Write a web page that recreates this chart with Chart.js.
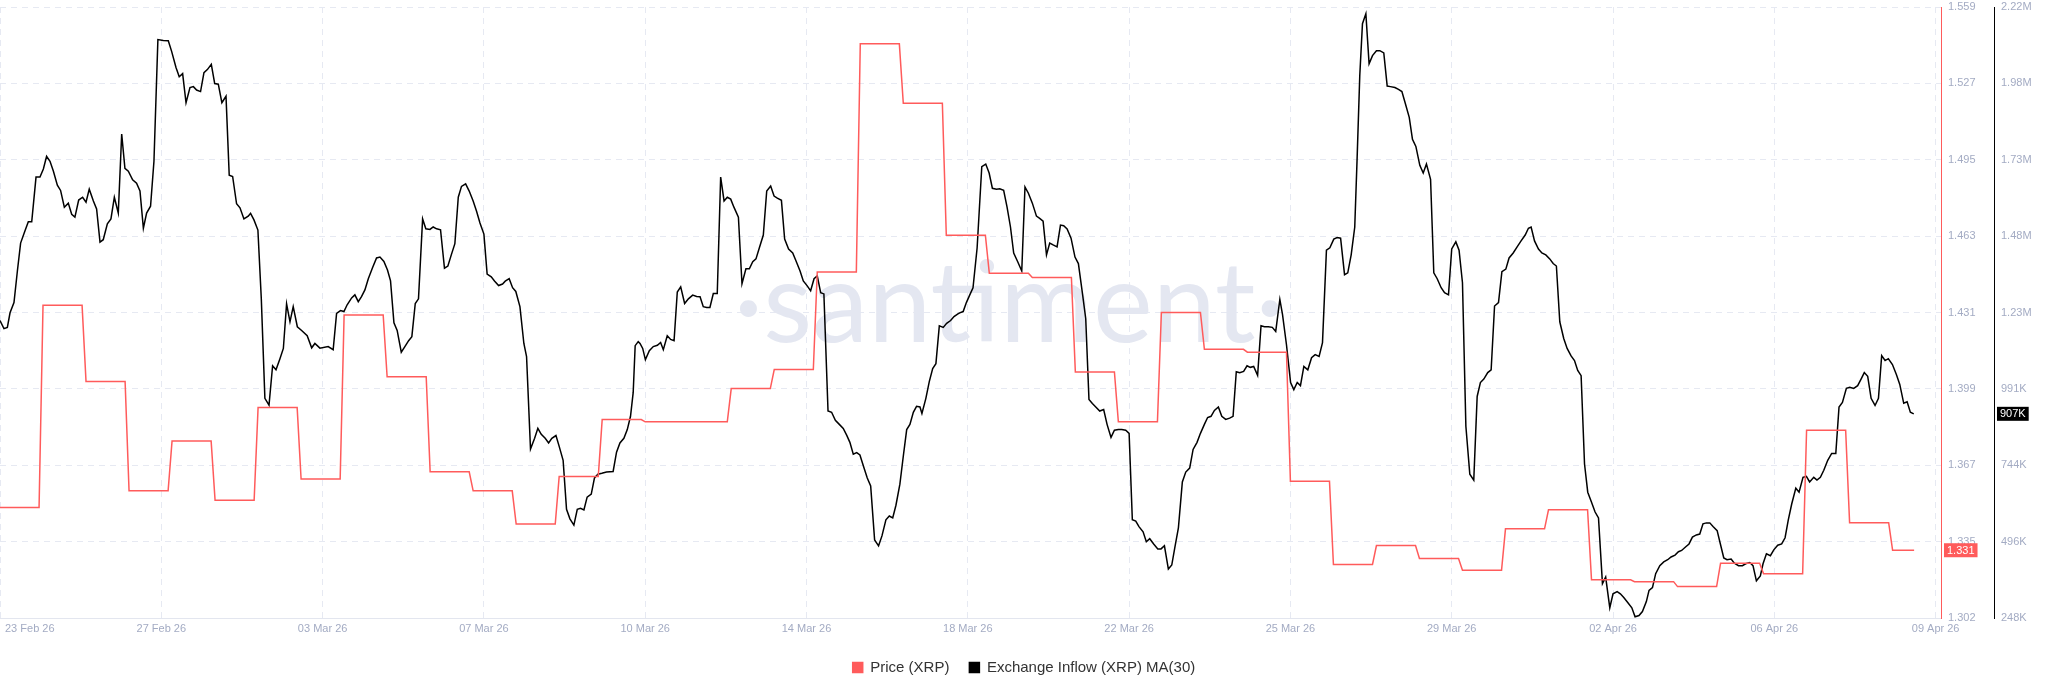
<!DOCTYPE html>
<html lang="en">
<head>
    <meta charset="UTF-8">
    <title>XRP Price vs Exchange Inflow MA(30)</title>
    <script src="https://cdn.jsdelivr.net/npm/chart.js"></script>
    <style>
        html, body { margin: 0; padding: 0; background: #fff; }
        #wrap { width: 2048px; height: 693px; position: relative; }
    </style>
</head>
<body>
<div id="wrap"><canvas id="chart"></canvas></div>
<script>
// x axis is hours since 23 Feb 26 00:00
const dateLabels = ['23 Feb 26', '27 Feb 26', '03 Mar 26', '07 Mar 26', '10 Mar 26', '14 Mar 26', '18 Mar 26',
    '22 Mar 26', '25 Mar 26', '29 Mar 26', '02 Apr 26', '06 Apr 26', '09 Apr 26'];
const dateTickHours = [0, 90, 180, 270, 360, 450, 540, 630, 720, 810, 900, 990, 1080];

const priceTickLabels = ['1.302', '1.335', '1.367', '1.399', '1.431', '1.463', '1.495', '1.527', '1.559'];
const inflowTickLabels = ['248K', '496K', '744K', '991K', '1.23M', '1.48M', '1.73M', '1.98M', '2.22M'];
const priceRange = [1.3025, 1.5595];
const inflowRange = [248, 2220]; // thousands of XRP

// daily XRP price (one value per day, starting 23 Feb)
const priceDaily = [1.349, 1.434, 1.402, 1.356, 1.377, 1.352, 1.391, 1.361, 1.430, 1.404,
    1.364, 1.356, 1.342, 1.362, 1.386, 1.385, 1.385, 1.399, 1.407, 1.448,
    1.544, 1.519, 1.4635, 1.4475, 1.4457, 1.406, 1.385, 1.431, 1.4155, 1.4143,
    1.360, 1.325, 1.333, 1.3275, 1.3226, 1.340, 1.348, 1.3186, 1.3178, 1.3157,
    1.3255, 1.3211, 1.3815, 1.3426, 1.331];
const priceLastHour = 1068;

// exchange inflow MA(30): [hour, thousands]
const inflowMA30 = [
    [0,1208],[2.2,1182],[4.1,1186],[5.6,1233],[7.8,1266],[9.7,1368],[11.5,1458],[13.9,1497],[15.8,1527],[17.7,1527],
    [20.1,1671],[22.3,1671],[24.2,1697],[26,1738],[27.9,1722],[29.8,1690],[32,1645],[33.8,1628],[35.9,1574],[38.1,1587],
    [40,1551],[41.8,1542],[43.9,1597],[46.1,1606],[48,1590],[49.8,1632],[52.1,1594],[53.9,1568],[55.8,1461],[57.6,1469],
    [59.9,1520],[61.9,1536],[63.8,1606],[66,1555],[67.9,1810],[69.7,1699],[71.6,1690],[74,1662],[76.2,1651],[78.1,1626],
    [80,1506],[81.8,1555],[84,1577],[85.9,1722],[88.1,2115],[91.1,2112],[93.9,2111],[95.8,2076],[98.2,2025],[100,1995],
    [101.9,2005],[103.8,1911],[106,1960],[107.9,1963],[109.7,1952],[111.9,1947],[113.8,2008],[115.7,2018],[117.9,2035],[119.8,1973],
    [121.8,1971],[123.8,1911],[126.1,1932],[127.9,1677],[129.8,1673],[132,1585],[133.9,1572],[136.1,1536],[138.5,1545],[139.8,1554],
    [141.7,1533],[143.9,1500],[145.8,1278],[147.8,957],[150.1,935],[152.1,1062],[154,1049],[156.2,1085],[158.1,1118],[159.9,1262],
    [161.8,1204],[163.6,1253],[165.9,1188],[168.3,1176],[171.4,1159],[173.9,1120],[175.7,1134],
    [178.5,1119],[183.1,1124],[185.9,1114],[187.8,1231],[190,1240],[191.9,1237],[193.7,1259],[196.2,1281],[198,1291],[199.9,1269],
    [201.7,1285],[203.6,1307],[205.5,1343],[207.9,1379],[210.1,1410],[212,1413],[214.2,1399],[216.2,1371],[217.9,1336],[219.8,1201],
    [221.6,1176],[223.9,1106],[225.9,1124],[228,1143],[229.8,1156],[231.7,1263],[233.5,1278],[235.8,1536],[237.6,1504],[239.9,1502],
    [241.7,1510],[243.6,1504],[245.8,1501],[248,1377],[249.9,1384],[251.8,1420],[253.8,1456],[255.7,1606],[257.5,1641],[259.8,1649],
    [261.8,1626],[264,1594],[265.9,1561],[267.8,1523],[270,1487],[271.8,1358],[274.1,1349],[275.9,1336],[278.2,1321],[280.4,1326],
    [281.9,1335],[284.1,1343],[286,1314],[287.8,1302],[290.1,1253],[292.3,1134],[293.8,1092],[296,793],[298.3,828],[300.1,860],
    [302,841],[304.2,828],[306.1,813],[307.9,828],[310.2,837],[312,802],[314.2,757],[316.1,599],[318,568],[320.2,548],
    [322.1,599],[323.9,602],[325.8,597],[327.6,638],[329.9,648],[331.7,700],[333.6,712],[335.8,715],[338.4,719],[342.1,721],
    [344,783],[345.9,813],[348.1,828],[350,856],[351.8,899],[353.3,976],[354.4,1127],[356.1,1140],
    [357.1,1134],[358.6,1118],[360.1,1082],[362.3,1111],[364.5,1124],[366.8,1128],[368.6,1137],[370.1,1114],[372.3,1159],[374.2,1147],
    [376.1,1143],[377.9,1300],[379.8,1317],[382,1263],[384.1,1278],[386.5,1290],[388.7,1286],[390.6,1285],[392.4,1253],[394.3,1250],
    [396.1,1250],[398,1295],[400.2,1295],[402.1,1671],[404,1594],[405.8,1606],[407.7,1600],[409.5,1574],[412,1542],[414,1327],
    [416.2,1375],[418.1,1375],[420,1398],[421.8,1407],[423.7,1443],[425.9,1484],[427.8,1626],[430,1642],[431.9,1610],[433.7,1603],
    [436,1596],[437.8,1471],[440,1439],[442.3,1426],[444.1,1401],[446.4,1368],[448.2,1336],[450.4,1320],[452.3,1304],[454.2,1343],
    [456,1352],[457.9,1298],[459.7,1294],[462,916],[464,912],[466.1,886],[468.3,873],[470.5,860],[472.4,838],[474.2,815],
    [476.1,777],[478,782],[479.8,774],[482.1,732],[483.9,700],[485.8,674],[488,500],[490.2,481],[492.1,513],[494.3,565],
    [496.2,577],[498.1,571],[499.9,612],[502.1,680],[504,770],[505.9,856],[507.7,873],[509.6,912],[511.4,931],[513.3,929],
    [514.4,908],[516.6,957],[518.5,1011],[520.4,1053],[522.2,1069],[524.1,1191],[526.3,1186],[528.2,1199],[530.4,1208],[532.3,1221],
    [534.7,1230],[535.5,1233],[537.4,1237],[539.2,1266],[541.1,1291],[542.9,1314],[545.2,1443],[547.8,1705],[550,1713],[551.9,1684],
    [553.7,1635],[556,1632],[557.8,1633],[560,1628],[561.9,1574],[563.8,1510],[565.6,1426],[567.9,1397],[570.1,1368],[571.9,1639],
    [573.8,1619],[576,1587],[578.3,1545],[580.1,1538],[582,1529],[583.9,1420],[585.7,1458],[587.6,1452],[589.8,1446],[591.7,1516],
    [593.5,1514],[595.4,1504],[597.6,1474],[599.8,1413],[601.7,1392],[603.9,1298],[605.8,1214],[607.6,953],[609.5,940],[611.4,929],
    [613.6,916],[615.8,921],[617.7,873],[619.9,831],[621.8,854],[624,856],[625.9,856],[628.1,854],[630,844],[631.8,565],
    [633.7,561],[635.5,543],[637.8,526],[639.6,494],[641.5,504],[643.7,487],[646,471],[647.8,471],[649.7,481],[651.9,406],
    [653.8,419],[655.6,478],[657.5,539],[659.7,687],[661.6,719],[663.8,732],[665.7,792],[667.9,815],[669.8,844],[672,873],
    [673.8,895],[675.7,899],[677.6,918],[679.8,929],[681.7,899],[683.9,889],[686.1,893],[688,899],[689.8,1043],[691.7,1040],
    [693.9,1044],[695.8,1062],[697.6,1057],[699.5,1060],[701.7,1031],[703.6,1191],[705.5,1188],[707.7,1188],[709.9,1186],[711.8,1173],
    [714.1,1276],[715.6,1227],[717.8,1130],[720.1,1008],[721.9,985],[723.8,1008],[725.6,998],[727.5,1060],[729.7,1049],[731.8,1088],
    [733.8,1098],[736,1092],[737.9,1137],[740.1,1435],[742,1443],[744.2,1471],[746.1,1476],[748,1474],[750.2,1356],[752,1362],
    [753.9,1420],[755.9,1510],[757.2,1729],[758.7,1999],[760.2,2166],[762.1,2198],[763.9,2037],[765.8,2063],[768,2079],[769.9,2079],
    [772.1,2072],[774,1965],[775.8,1963],[778.3,1960],[780.3,1954],[782.2,1947],[784,1911],[786.3,1864],[788.1,1793],[790,1770],
    [792.2,1709],[794.1,1684],[795.9,1713],[798.2,1664],[800,1362],[801.9,1343],[804.1,1314],[806,1298],[808.2,1291],[810,1439],
    [812.3,1462],[814.1,1435],[816,1330],[817.9,867],[820.1,712],[822.3,693],[824.2,963],[826,1008],[827.9,1019],[830.1,1040],
    [832,1049],[833.9,1255],[836.1,1266],[838,1366],[840.2,1374],[842,1410],[844.3,1426],[846.5,1446],[848.7,1465],[851,1484],
    [852.8,1506],[854.3,1510],[856.2,1465],[858.4,1439],[860.3,1426],[862.5,1420],[864.7,1407],[866.6,1392],[868.4,1384],[870.3,1204],
    [872.5,1150],[874.4,1118],[876.6,1094],[878.5,1079],[880.3,1047],[882.2,1030],[884.1,745],[885.9,654],[887.8,625],[890,590],
    [891.9,571],[894.1,359],[895.9,380],[898.2,281],[900,326],[902.3,333],[904.1,326],[906,314],[908.2,298],[910.5,281],
    [912.3,252],[914.5,256],[916.4,269],[918.6,301],[920.1,337],[922,346],[923.8,391],[926.1,417],[928.3,429],[930.5,436],
    [932.4,445],[934.6,451],[936.5,462],[938.3,466],[940.6,478],[942.4,487],[944.3,509],[946.5,516],[948.4,519],[950.2,552],
    [952.1,555],[954,555],[955.8,543],[958.1,530],[959.9,487],[961.8,442],[963.6,436],[965.9,438],[967.7,425],[970,417],
    [972.2,417],[974,423],[976.3,427],[978.1,417],[980,368],[982.2,384],[983.7,423],[985.6,455],[987.8,449],[989.7,468],
    [991.9,483],[994.1,487],[996,507],[997.8,565],[999.7,616],[1002,667],[1003.8,654],[1006,702],[1007.9,705],[1009.7,687],
    [1012,702],[1013.8,693],[1015.7,702],[1017.6,725],[1019.8,757],[1022,779],[1024.3,779],[1026.1,929],[1028,944],[1030.2,989],
    [1032.1,993],[1034.3,989],[1036.5,998],[1038.4,1019],[1040.2,1040],[1042.1,1028],[1044,957],[1046.2,934],[1048.1,957],[1049.9,1095],
    [1051.8,1079],[1053.6,1085],[1055.9,1066],[1058.1,1034],[1060,1002],[1062.2,941],[1064.1,946],[1065.9,912],[1067.8,907]
];

const FONT = '"Liberation Sans", Arial, sans-serif';
const TICK_COLOR = '#a3abc3';
const GRID_COLOR = '#e6e9f2';
const RED = '#ff5b5b';

Chart.defaults.font.family = FONT;

// price is daily: flat for the day, short ramp into the next one
const pricePoints = [];
priceDaily.forEach((p, d) => {
    pricePoints.push({ x: d * 24, y: p });
    pricePoints.push({ x: Math.min(d * 24 + 21.8, priceLastHour), y: p });
});

function evenTicks(range, count) {
    const step = (range[1] - range[0]) / (count - 1);
    return Array.from({ length: count }, (_, i) => ({ value: range[0] + i * step }));
}

function fmtInflow(v) {
    return v >= 1000 ? (v / 1000).toFixed(2) + 'M' : Math.round(v) + 'K';
}

function fitRightAxis(width) {
    return s => {
        s.width = width;
        s.paddingTop = 0;
        s.paddingBottom = 0;
    };
}

const santimentPlugin = {
    id: 'santiment',
    beforeDatasetsDraw(chart) {
        const { ctx, chartArea } = chart;
        ctx.save();
        ctx.font = '400 113px Lato, "Open Sans", sans-serif';
        ctx.fillStyle = '#e4e7f1';
        ctx.textAlign = 'center';
        ctx.textBaseline = 'alphabetic';
        ctx.fillText('\u00B7santiment\u00B7', chartArea.left + chartArea.width * 0.52, chartArea.top + chartArea.height * 0.548);
        ctx.restore();
    },
    afterDraw(chart) {
        const { ctx } = chart;
        const xs = chart.scales.x;
        ctx.save();
        // date labels, first one kept inside the canvas
        ctx.font = '11px ' + FONT;
        ctx.fillStyle = TICK_COLOR;
        ctx.textAlign = 'center';
        ctx.textBaseline = 'middle';
        dateLabels.forEach((lab, i) => {
            const w = ctx.measureText(lab).width;
            const px = Math.max(xs.getPixelForValue(dateTickHours[i]), w / 2 + 5);
            ctx.fillText(lab, px, xs.top + 11);
        });

        // last value badges
        const badge = (scale, value, text, bg) => {
            const y = scale.getPixelForValue(value);
            const w = ctx.measureText(text).width + 6;
            ctx.fillStyle = bg;
            ctx.fillRect(scale.left + 3, y - 7, w, 14);
            ctx.fillStyle = '#fff';
            ctx.textAlign = 'left';
            ctx.fillText(text, scale.left + 6, y + 0.5);
        };
        const lastPrice = priceDaily[priceDaily.length - 1];
        const lastInflow = inflowMA30[inflowMA30.length - 1][1];
        badge(chart.scales.yPrice, lastPrice, lastPrice.toFixed(3), RED);
        badge(chart.scales.yInflow, lastInflow, fmtInflow(lastInflow), '#000');
        ctx.restore();
    }
};

new Chart(document.getElementById('chart'), {
    type: 'line',
    data: {
        datasets: [
            {
                label: 'Price (XRP)',
                data: pricePoints,
                yAxisID: 'yPrice',
                borderColor: RED,
                backgroundColor: RED,
                borderWidth: 1.5,
                pointRadius: 0,
                tension: 0
            },
            {
                label: 'Exchange Inflow (XRP) MA(30)',
                data: inflowMA30.map(([x, y]) => ({ x, y })),
                yAxisID: 'yInflow',
                borderColor: '#000',
                backgroundColor: '#000',
                borderWidth: 1.5,
                pointRadius: 0,
                tension: 0
            }
        ]
    },
    options: {
        responsive: true,
        maintainAspectRatio: false,
        animation: false,
        layout: { padding: { top: 7, left: 0, right: 0, bottom: 8 } },
        plugins: {
            tooltip: { enabled: false },
            legend: {
                position: 'bottom',
                labels: {
                    boxWidth: 10,
                    boxHeight: 10,
                    padding: 20,
                    color: '#333',
                    font: { size: 15 }
                }
            }
        },
        scales: {
            x: {
                type: 'linear',
                min: 0,
                max: 1083,
                ticks: { display: false },
                grid: { color: GRID_COLOR, drawTicks: false },
                border: { color: '#e3e6ef', dash: [6, 5] },
                afterBuildTicks: s => { s.ticks = dateTickHours.map(v => ({ value: v })); },
                afterFit: s => { s.height = 22; s.paddingLeft = 0; s.paddingRight = 0; }
            },
            yPrice: {
                type: 'linear',
                position: 'right',
                min: priceRange[0],
                max: priceRange[1],
                afterBuildTicks: s => { s.ticks = evenTicks(priceRange, priceTickLabels.length); },
                ticks: {
                    callback: (v, i) => priceTickLabels[i],
                    color: TICK_COLOR,
                    padding: 7,
                    font: { size: 11 }
                },
                grid: { color: GRID_COLOR, drawTicks: false },
                border: { color: RED, dash: [6, 5] },
                afterFit: fitRightAxis(53)
            },
            yInflow: {
                type: 'linear',
                position: 'right',
                min: inflowRange[0],
                max: inflowRange[1],
                afterBuildTicks: s => { s.ticks = evenTicks(inflowRange, inflowTickLabels.length); },
                ticks: {
                    callback: (v, i) => inflowTickLabels[i],
                    color: TICK_COLOR,
                    padding: 7,
                    font: { size: 11 }
                },
                grid: { drawOnChartArea: false, drawTicks: false },
                border: { color: '#000' },
                afterFit: fitRightAxis(54)
            }
        }
    },
    plugins: [santimentPlugin]
});
</script>
</body>
</html>
